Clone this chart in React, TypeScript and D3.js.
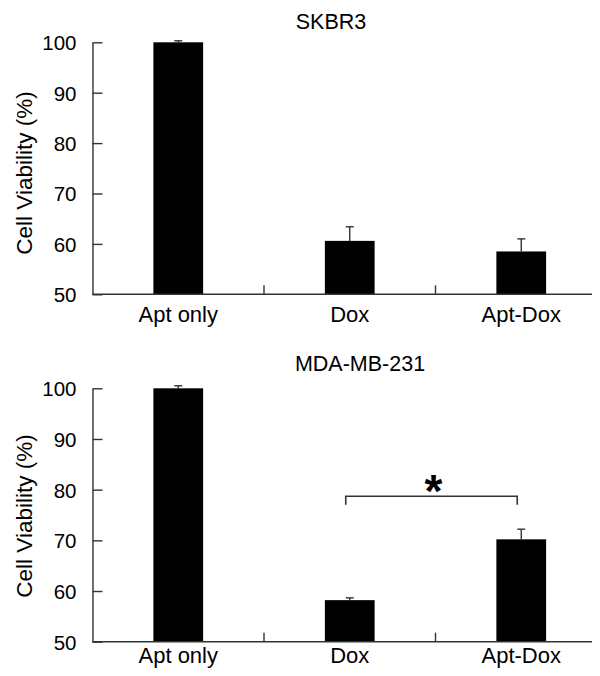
import React, { useEffect, useRef } from 'react'
import * as d3 from 'd3'

// categories shared by both panels
const categories = ['Apt only', 'Dox', 'Apt-Dox']
const yTicks = [50, 60, 70, 80, 90, 100]

// SKBR3 panel
const skbr3Values = [100, 60.6, 58.5]
const skbr3Errors = [0.3, 2.8, 2.5]

// MDA-MB-231 panel
const mdaValues = [100, 58.2, 70.2]
const mdaErrors = [0.5, 0.45, 2.0]
// significance bracket (Dox vs Apt-Dox)
const mdaBracket = { from: 'Dox', to: 'Apt-Dox', top: 78.7, bottom: 77.0, label: '*' }

const W = 600
const H = 676
const FONT = 'Liberation Sans, Arial, sans-serif'
const LINE = '#333'

interface Panel {
  title: string
  titleX: number
  titleY: number
  values: number[]
  errors: number[]
  top: number
  bottom: number
  labelY: number
  yLabelY: number
  bracket?: typeof mdaBracket
}

const panels: Panel[] = [
  {
    title: 'SKBR3',
    titleX: 331,
    titleY: 28.5,
    values: skbr3Values,
    errors: skbr3Errors,
    top: 42.3,
    bottom: 294.3,
    labelY: 321.5,
    yLabelY: 173
  },
  {
    title: 'MDA-MB-231',
    titleX: 360,
    titleY: 370.5,
    values: mdaValues,
    errors: mdaErrors,
    top: 388.3,
    bottom: 641.7,
    labelY: 662.5,
    yLabelY: 516,
    bracket: mdaBracket
  }
]

const App: React.FC = () => {
  const svgRef = useRef<SVGSVGElement | null>(null)

  useEffect(() => {
    if (!svgRef.current) return
    const svg = d3.select(svgRef.current)
    svg.selectAll('*').remove()

    const left = 92.5
    const axisEnd = 592

    const x = d3
      .scaleBand<string>()
      .domain(categories)
      .range([left, left + 3 * 171.5])
      .paddingInner(0.71)
      .paddingOuter(0.355)

    panels.forEach((p) => {
      const y = d3.scaleLinear().domain([50, 100]).range([p.bottom, p.top])
      const g = svg.append('g')

      // title
      g.append('text')
        .attr('x', p.titleX)
        .attr('y', p.titleY)
        .attr('text-anchor', 'middle')
        .attr('font-size', 21.5)
        .attr('font-family', FONT)
        .text(p.title)

      // y axis label
      g.append('text')
        .attr('transform', `translate(32,${p.yLabelY}) rotate(-90)`)
        .attr('text-anchor', 'middle')
        .attr('font-size', 22.5)
        .attr('font-family', FONT)
        .text('Cell Viability (%)')

      // bars
      g.selectAll('rect.bar')
        .data(categories)
        .join('rect')
        .attr('class', 'bar')
        .attr('x', (d) => x(d)!)
        .attr('width', x.bandwidth())
        .attr('y', (d, i) => y(p.values[i]))
        .attr('height', (d, i) => p.bottom - y(p.values[i]))
        .attr('fill', '#000')

      // error bars (upper only)
      categories.forEach((c, i) => {
        const cx = x(c)! + x.bandwidth() / 2
        const y0 = y(p.values[i])
        const y1 = y(p.values[i] + p.errors[i])
        g.append('line')
          .attr('x1', cx)
          .attr('x2', cx)
          .attr('y1', y0)
          .attr('y2', y1)
          .attr('stroke', LINE)
          .attr('stroke-width', 1.4)
        g.append('line')
          .attr('x1', cx - 4)
          .attr('x2', cx + 4)
          .attr('y1', y1)
          .attr('y2', y1)
          .attr('stroke', LINE)
          .attr('stroke-width', 1.4)
      })

      // y axis with inward ticks
      const yAxis = d3
        .axisLeft(y)
        .tickValues(yTicks)
        .tickSizeInner(-10)
        .tickSizeOuter(0)
        .tickPadding(16)
      const ya = g.append('g').attr('transform', `translate(${left},0)`).call(yAxis)
      ya.selectAll('path, line').attr('stroke', LINE).attr('stroke-width', 1.4)
      ya.selectAll('text')
        .attr('font-size', 20.5)
        .attr('font-family', FONT)
        .attr('fill', '#000')
        .attr('dy', '0.36em')

      // x axis baseline
      g.append('line')
        .attr('x1', left)
        .attr('x2', axisEnd)
        .attr('y1', p.bottom)
        .attr('y2', p.bottom)
        .attr('stroke', LINE)
        .attr('stroke-width', 1.4)

      // separator ticks between categories
      categories.slice(0, -1).forEach((c) => {
        const bx = x(c)! + x.bandwidth() + (x.step() - x.bandwidth()) / 2
        g.append('line')
          .attr('x1', bx)
          .attr('x2', bx)
          .attr('y1', p.bottom)
          .attr('y2', p.bottom - 9)
          .attr('stroke', LINE)
          .attr('stroke-width', 1.4)
      })

      // category labels
      g.selectAll('text.cat')
        .data(categories)
        .join('text')
        .attr('class', 'cat')
        .attr('x', (d) => x(d)! + x.bandwidth() / 2)
        .attr('y', p.labelY)
        .attr('text-anchor', 'middle')
        .attr('font-size', 22)
        .attr('font-family', FONT)
        .text((d) => d)

      // significance bracket
      if (p.bracket) {
        const b = p.bracket
        const bx0 = x(b.from)! + x.bandwidth() / 2 - 4
        const bx1 = x(b.to)! + x.bandwidth() / 2 - 4
        const path = d3.path()
        path.moveTo(bx0, y(b.bottom))
        path.lineTo(bx0, y(b.top))
        path.lineTo(bx1, y(b.top))
        path.lineTo(bx1, y(b.bottom))
        g.append('path')
          .attr('d', path.toString())
          .attr('fill', 'none')
          .attr('stroke', LINE)
          .attr('stroke-width', 1.6)
        g.append('text')
          .attr('x', (bx0 + bx1) / 2 + 2)
          .attr('y', y(b.top) + 11)
          .attr('text-anchor', 'middle')
          .attr('font-size', 46)
          .attr('font-weight', 'bold')
          .attr('font-family', FONT)
          .text(b.label)
      }
    })
  }, [])

  return (
    <svg
      ref={svgRef}
      width={W}
      height={H}
      style={{ position: 'absolute', left: 0, top: 0, background: '#fff' }}
    />
  )
}

export default App
